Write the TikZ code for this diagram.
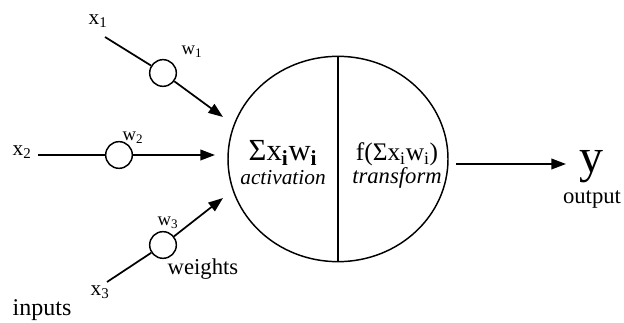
\documentclass[tikz,border=0pt]{standalone}
\usepackage{fontspec}
\setmainfont{Liberation Serif}
\usetikzlibrary{arrows.meta,shapes.geometric}

\begin{document}
\begin{tikzpicture}[x=0.75pt,y=-0.75pt,line width=1.3pt,>={Triangle[length=11pt,width=8pt]}]
  \tikzstyle{weight}=[circle,draw,line width=1.1pt,minimum size=20pt,inner sep=0pt]
  \tikzstyle{lab}=[inner sep=0pt,font=\fontsize{16}{16}\selectfont]
  \tikzstyle{wlab}=[inner sep=0pt,font=\fontsize{14}{14}\selectfont]
  \useasboundingbox (0,0) rectangle (624,323);
  % neuron body
  \node[draw,ellipse,line width=1.1pt,minimum width=165pt,minimum height=154pt] (neuron) at (338,159) {};
  \draw[line width=1.1pt] (neuron.north) -- (neuron.south);
  \node[inner sep=0pt,font=\fontsize{23}{23}\selectfont] (sum) at (283,153) {Σx\textsubscript{\textbf{i}}w\textsubscript{\textbf{i}}};
  \node[inner sep=0pt,font=\fontsize{16}{16}\selectfont\itshape] (act) at (283,178) {activation};
  \node[inner sep=0pt,font=\fontsize{19}{19}\selectfont] (fun) at (397,154) {f(Σx\textsubscript{i}w\textsubscript{i})};
  \node[inner sep=0pt,font=\fontsize{17}{17}\selectfont\itshape] (tra) at (397,178) {transform};
  % inputs and weights
  \foreach \name/\x/\y/\wx/\wy/\tx/\ty in {1/105/37/163/73/223/117,2/38/155/119/155/215/155,3/107/282/163/245/223/198} {
    \coordinate (in-\name) at (\x,\y);
    \node[weight] (w-\name) at (\wx,\wy) {};
    \coordinate (tip-\name) at (\tx,\ty);
    \draw (in-\name) -- (w-\name);
    \draw[->] (w-\name) -- (tip-\name);
  }
  \node[lab] (x-1) at (98,21) {x\textsubscript{1}};
  \node[lab] (x-2) at (22,152) {x\textsubscript{2}};
  \node[lab] (x-3) at (100,292) {x\textsubscript{3}};
  \node[wlab] (wl-1) at (192,52) {w\textsubscript{1}};
  \node[wlab] (wl-2) at (133,138) {w\textsubscript{2}};
  \node[wlab] (wl-3) at (168,223) {w\textsubscript{3}};
  \node[lab,font=\fontsize{17}{17}\selectfont] (weights) at (203,269) {weights};
  \node[lab,font=\fontsize{18}{18}\selectfont] (inputs) at (42,310) {inputs};
  % output
  \coordinate (out-start) at (456,164);
  \coordinate (out-tip) at (566,164);
  \node[inner sep=0pt,font=\fontsize{36}{36}\selectfont] (y) at (591,167) {y};
  \node[inner sep=0pt,font=\fontsize{17}{17}\selectfont] (output) at (592,200) {output};
  \draw[->] (out-start) -- (out-tip);
\end{tikzpicture}
\end{document}
